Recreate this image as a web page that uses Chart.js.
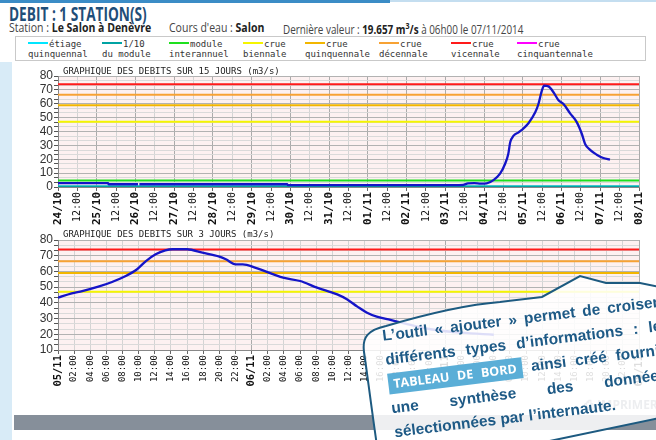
<!DOCTYPE html>
<html>
<head>
<meta charset="utf-8">
<script src="https://cdn.jsdelivr.net/npm/chart.js@4.4.1/dist/chart.umd.min.js"></script>
<style>
  html, body { margin: 0; padding: 0; width: 656px; height: 440px; overflow: hidden; background: #fff; }
  body { position: relative; font-family: "Open Sans", sans-serif; }
  .abs { position: absolute; white-space: nowrap; }
  #barreHaut { left: 0; top: 0; width: 390px; height: 3px; background: #3b8cc6; }
  #barreHaut2 { left: 390px; top: 0; width: 266px; height: 2px; background: #c4def0; }
  #bandeGauche { left: 0; top: 62px; width: 12px; height: 378px; background: #d8ebf7; }
  #titre { left: 9px; top: 1px; font-size: 19px; font-weight: 700; color: #1f4e79; transform-origin: left top; }
  .sous { top: 19px; font-size: 12.5px; color: #444; transform-origin: left top; }
  .sous b { color: #222; }
  #legende { left: 15px; top: 36px; width: 629px; height: 23px; border: 1px solid #c9c9c9; }
  .leg { position: absolute; top: 2px; font-family: "DejaVu Sans Mono", monospace; font-size: 9px; line-height: 10px; color: #333; white-space: nowrap; }
  .trait { display: inline-block; width: 20px; height: 2px; vertical-align: 3px; margin-right: 1px; }
  .titreGraph { font-family: "DejaVu Sans Mono", monospace; font-size: 9px; color: #222; }
  canvas { position: absolute; left: 0; }
  #barreBas { left: 14px; top: 415px; width: 642px; height: 15px; background: #868f9a; }
  #imprimer { left: 584px; top: 396px; font-size: 12px; font-weight: 700; color: #7d8a98; }
  #bulle { position: absolute; left: 0; top: 0; }
  #texteBulle { left: 381px; top: 324px; width: 278px; transform: rotate(-7deg); transform-origin: left top;
    font-family: "Liberation Sans", Arial, sans-serif; font-weight: 700; font-size: 15.5px; line-height: 24px; color: #1e5a86; white-space: normal; }
  #texteBulle div { text-align: justify; text-align-last: justify; white-space: nowrap; }
  #texteBulle div.dern { text-align-last: left; }
  .tag { background: #5aaed7; color: #fff; font-family: "Open Sans", sans-serif; font-size: 12.5px; padding: 2px 6px 2px 5px; }
</style>
</head>
<body>
<div class="abs" id="barreHaut"></div>
<div class="abs" id="barreHaut2"></div>
<div class="abs" id="bandeGauche"></div>

<div class="abs" id="titre" data-w="138">DEBIT : 1 STATION(S)</div>
<div class="abs sous" style="left:9px" data-w="142">Station : <b>Le Salon à Denèvre</b></div>
<div class="abs sous" style="left:169px" data-w="95">Cours d'eau : <b>Salon</b></div>
<div class="abs sous" style="left:283px" data-w="240">Dernière valeur : <b>19.657 m<sup style="font-size:9px">3</sup>/s</b> à 06h00 le 07/11/2014</div>

<div class="abs" id="legende"></div>

<canvas id="graph15" width="656" height="175" style="top:64px"></canvas>
<canvas id="graph3" width="656" height="175" style="top:228px"></canvas>

<div class="abs titreGraph" style="left:63px; top:66px">GRAPHIQUE DES DEBITS SUR 15 JOURS (m3/s)</div>
<div class="abs titreGraph" style="left:63px; top:229px">GRAPHIQUE DES DEBITS SUR 3 JOURS (m3/s)</div>

<div class="abs" id="barreBas"></div>
<div class="abs" id="imprimer">&#9113; IMPRIMER</div>

<svg id="bulle" width="656" height="440">
  <path d="M 377 446 C 371 405 367 372 364 352 C 362 337 368 330 386 326 C 420 316 462 305 500 302 L 542 297 L 580 276 L 606 283 L 640 283 L 660 287 L 660 418 L 540 443 Z"
        fill="rgba(255,255,255,0.86)" stroke="#1d5a80" stroke-width="2"/>
</svg>
<div class="abs" id="texteBulle">
  <div>L’outil « ajouter » permet de croiser</div>
  <div>différents types d’informations : le</div>
  <div><span class="tag">TABLEAU DE BORD</span> ainsi créé fournit</div>
  <div>une synthèse des données</div>
  <div class="dern">sélectionnées par l’internaute.</div>
</div>

<script>
// seuils de la station (m3/s)
const seuilNoms = ["étiage|quinquennal", "1/10|du module", "module|interannuel", "crue|biennale",
  "crue|quinquennale", "crue|décennale", "crue|vicennale", "crue|cinquantennale"];
const seuilValeurs = [0.35, 0.4, 4.6, 47, 59, 66.5, 74, 95];
const seuilCouleurs = ["#00e6ff", "#00a3a3", "#1ee01e", "#f5f500", "#f2b600", "#f7a234", "#ff1a1a", "#ff00ff"];
const legendeX = [28, 102, 169, 243, 305, 379, 451, 517];

// graphique 15 jours : heures depuis le 24/10 00:00
const jours15 = ["24/10", "25/10", "26/10", "27/10", "28/10", "29/10", "30/10", "31/10",
  "01/11", "02/11", "03/11", "04/11", "05/11", "06/11", "07/11", "08/11"];
const heures15 = [0, 31, 31.3, 49.6, 50, 50.4, 142, 142.3, 245, 251, 254, 258, 262, 265.6,
  269.8, 273.8, 277, 279, 280.2, 282.3, 285.4, 287.4, 291.5, 295.7, 297.7, 299.8, 301.2,
  303.9, 307, 310, 313.2, 317.3, 321.5, 324.6, 326.6, 329.7, 333.8, 337.9, 342];
const debits15 = [2.8, 2.8, 2.0, 2.0, null, 2.0, 2.0, 1.4, 1.4, 1.6, 2.6, 2.8, 2.4, 2.6,
  5, 9.4, 16.6, 23.8, 32.2, 37, 39.4, 41.1, 45.9, 53.8, 59.8, 69.4, 73,
  72.5, 68.3, 62.7, 59.8, 53.1, 46.6, 38.2, 31, 26.7, 23.3, 20.9, 19.7];

// graphique 3 jours : heures depuis le 05/11 00:00
const jours3 = ["05/11", "06/11", "07/11", "08/11"];
const heures3 = [0, 1.7, 3, 5, 6.7, 8.4, 9.8, 10.9, 12.1, 13.3, 14.2, 16, 17.9, 20, 20.8,
  22, 22.9, 24.5, 27.9, 30, 32.1, 34.6, 35.8, 37.1, 38.3, 39.5, 41.2, 42.9, 46.2, 50, 54];
const debits3 = [43.3, 46.1, 47.5, 50.3, 53.3, 57.1, 61.4, 66.6, 70.9, 73.4, 74.1, 74.1, 71.9,
  69.4, 67.7, 64.5, 64.5, 62.3, 56, 53.9, 49.7, 45.4, 42.3, 37.6, 33.7, 31.2, 29.1, 27, 23.2, 21, 19.7];

const MONO = "DejaVu Sans Mono";

// légende
const leg = document.getElementById("legende");
seuilNoms.forEach((nom, i) => {
  const [l1, l2] = nom.split("|");
  const d = document.createElement("div");
  d.className = "leg";
  d.style.left = (legendeX[i] - 16) + "px";
  d.innerHTML = `<span class="trait" style="background:${seuilCouleurs[i]}"></span>${l1}<br>${l2}`;
  leg.appendChild(d);
});

// texte d'en-tête resserré
document.querySelectorAll("[data-w]").forEach(el => {
  const w = el.scrollWidth;
  el.style.transform = `scaleX(${el.dataset.w / w})`;
});

const fondRose = {
  id: "fondRose",
  beforeDraw(chart) {
    const { ctx, chartArea: a } = chart;
    ctx.save();
    ctx.fillStyle = "#fdf1f1";
    ctx.fillRect(a.left, a.top, a.right - a.left, a.bottom - a.top);
    ctx.restore();
  },
};

function isMajeur(v) {
  return Math.abs(v / 10 - Math.round(v / 10)) < 1e-6;
}

function creerGraph(id, heures, debits, xMax, pas, jours, yMin, xHaut, fontDate, fontHeure) {
  const series = [
    {
      data: heures.map((h, i) => ({ x: h, y: debits[i] })),
      borderColor: "#1414c8",
      borderWidth: 2.3,
      pointRadius: 0,
      cubicInterpolationMode: "monotone",
      spanGaps: false,
      order: 0,
    },
  ];
  seuilValeurs.forEach((v, i) => {
    series.push({
      data: [{ x: 0, y: v }, { x: xMax, y: v }],
      borderColor: seuilCouleurs[i],
      borderWidth: 2,
      pointRadius: 0,
      order: i === 0 ? 20 : i + 1, // l'étiage passe sous le 1/10 du module
    });
  });

  return new Chart(document.getElementById(id), {
    type: "line",
    data: { datasets: series },
    options: {
      responsive: false,
      animation: false,
      devicePixelRatio: 1,
      layout: { padding: { top: 12, right: 17, left: 0, bottom: 0 } },
      plugins: { legend: { display: false }, tooltip: { enabled: false } },
      scales: {
        x: {
          type: "linear",
          min: 0,
          max: xMax,
          afterFit: s => { s.height = xHaut; },
          border: { color: "#888" },
          grid: {
            color: c => (c.tick && c.tick.value % 24 === 0 ? "#ababab" : "#d4d4d4"),
            tickColor: "#666",
            tickLength: 4,
          },
          ticks: {
            stepSize: pas,
            autoSkip: false,
            minRotation: 90,
            maxRotation: 90,
            padding: 1,
            color: "#111",
            font: c => (c.tick && c.tick.value % 24 === 0 ? fontDate : fontHeure),
            callback: v => {
              if (v % 24 === 0) return jours[v / 24];
              return String(v % 24).padStart(2, "0") + ":00";
            },
          },
        },
        y: {
          min: yMin,
          max: 80,
          afterFit: s => { s.width = 58; },
          afterBuildTicks: s => {
            const t = [];
            for (let v = yMin; v < 80; v += 10) t.push({ value: v }, { value: v + 10 / 3 }, { value: v + 20 / 3 });
            t.push({ value: 80 });
            s.ticks = t;
          },
          border: { color: "#888" },
          grid: {
            color: c => (c.tick && isMajeur(c.tick.value) ? "#b2b2b2" : "#dadada"),
            tickColor: "#555",
            tickLength: 4,
          },
          ticks: {
            autoSkip: false,
            padding: 1,
            color: "#333",
            font: { family: "Liberation Sans", size: 12 },
            callback: v => (isMajeur(v) ? Math.round(v) : ""),
          },
        },
      },
    },
    plugins: [fondRose],
  });
}

creerGraph("graph15", heures15, debits15, 360, 12, jours15, 0, 52,
  { family: MONO, size: 11, weight: "bold" }, { family: MONO, size: 10 });
creerGraph("graph3", heures3, debits3, 72, 2, jours3, 10, 53,
  { family: MONO, size: 10.5, weight: "bold" }, { family: MONO, size: 9 });
</script>
</body>
</html>
